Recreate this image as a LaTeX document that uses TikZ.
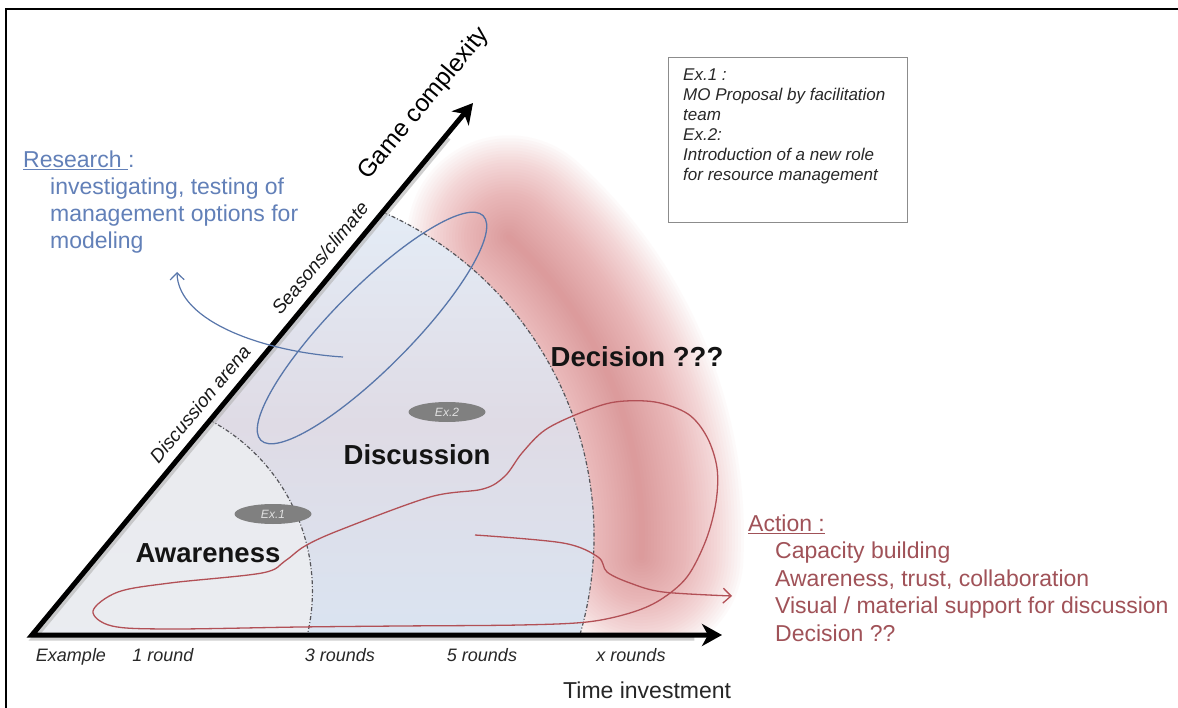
\documentclass[tikz,border=0pt]{standalone}
\usepackage{fontspec}
\setmainfont{Liberation Sans}
\usetikzlibrary{arrows.meta,shapes.geometric,calc}
\definecolor{resblue}{RGB}{98,128,184}
\definecolor{ellblue}{RGB}{88,118,170}
\definecolor{actred}{RGB}{160,82,88}
\definecolor{loopred}{RGB}{178,80,86}
\definecolor{pinkc}{RGB}{220,120,122}
\definecolor{awfill}{RGB}{237,238,241}
\definecolor{dtop}{RGB}{228,236,246}
\definecolor{dmid}{RGB}{223,219,229}
\definecolor{dbot}{RGB}{218,228,241}
\definecolor{bubgray}{RGB}{128,128,128}
\definecolor{arcgray}{RGB}{85,85,90}
\definecolor{boxgray}{RGB}{140,140,140}
\definecolor{txtgray}{RGB}{40,40,40}
\begin{document}
\begin{tikzpicture}[x=1pt,y=-1pt,
  axisline/.style={line width=5pt, line join=miter, arrows={Stealth[length=20pt,width=22pt,inset=6pt]-Stealth[length=20pt,width=22pt,inset=6pt]}},
  arcline/.style={arcgray, line width=1.2pt, dash pattern=on 4pt off 2pt on 1pt off 2pt},
  bubble/.style={ellipse, fill=bubgray, minimum width=77pt, minimum height=20pt, inner sep=0pt, text=black!12, font=\fontsize{12}{12}\selectfont\itshape},
  biglabel/.style={font=\fontsize{27.5}{30}\selectfont\bfseries, inner sep=0pt, text=black!92},
  difflabel/.style={rotate=50.3, font=\fontsize{19}{21}\selectfont\itshape, inner sep=0pt, text=black!90},
  axlabel/.style={font=\fontsize{18}{20}\selectfont\itshape, text=txtgray, inner sep=0pt, anchor=base},
  restext/.style={anchor=north west, align=left, inner sep=0pt, text=resblue, font=\fontsize{23}{27}\selectfont},
  acttext/.style={anchor=north west, align=left, inner sep=0pt, text=actred, font=\fontsize{23}{27.5}\selectfont},
  bluecurve/.style={ellblue, line width=1.2pt},
  redcurve/.style={loopred, line width=1.3pt}
]
\useasboundingbox (0,0) rectangle (1178,708);
\fill[white] (0,0) rectangle (1178,708);

\coordinate (O) at (32,635);
\coordinate (htip) at (722,635);
\coordinate (dtip) at (473,103);
\coordinate (c1) at (118.7,591.1);
\coordinate (c2) at (240,536);

% frame
\draw[line width=2.5pt, line join=miter] (6,708) -- (6,9) -- (1178,9);

% discussion sector
\shade[top color=dtop, bottom color=dbot, middle color=dmid] (O) -- ($(c2)+(16.2:354)$) arc[start angle=16.2,end angle=-66.1,radius=354] -- cycle;
% awareness sector
\fill[awfill, opacity=0.85] (O) -- ($(c1)+(13.1:193.7)$) arc[start angle=13.1,end angle=-61.8,radius=193.7] -- cycle;

% pink decision glow (outside the discussion circle)
\begin{scope}[even odd rule]
\clip (0,0) rectangle (1178,634) (c2) circle[radius=354];
\foreach \w in {6,12,...,204}
  \draw[pinkc, opacity=0.033, line width=\w pt, line cap=round] ($(c2)+(3:402)$) arc[start angle=3,end angle=-48,radius=402];
\end{scope}

% dashed boundaries
\draw[arcline] ($(c1)+(-61.8:193.7)$) arc[start angle=-61.8,end angle=13.1,radius=193.7];
\draw[arcline] ($(c2)+(-66.1:354)$) arc[start angle=-66.1,end angle=16.2,radius=354];

% axes
\draw[line width=5pt, black!30, opacity=0.6, line join=miter] ($(dtip)!0.06!(O)+(2,3)$) -- ($(O)+(2,3)$) -- ($(htip)!0.04!(O)+(0,3)$);
\draw[axisline] (dtip) -- (O) -- (htip);

% research ellipse and arrow
\draw[bluecurve, line width=1.3pt, rotate around={45.3:(372,328)}] (372,328) ellipse [x radius=158pt, y radius=40pt];
\coordinate (rs) at (343,357);
\coordinate (re) at (177,272);
\draw[bluecurve, -{Straight Barb[length=7pt,width=14pt]}] (rs) .. controls (265,352) and (178,322) .. (re);

% action loop
\draw[redcurve] plot[smooth cycle, tension=0.55] coordinates {(93,611) (118,592) (170,583) (262,573) (285,561) (305,546) (340,530) (430,497) (483,489) (505,476) (522,453) (545,430) (580,413) (615,402) (655,402) (688,414) (707,437) (717,468) (716,502) (706,540) (687,577) (660,600) (630,613) (587,622) (520,625) (400,626) (300,627) (170,629) (112,626)};
\coordinate (as) at (475,535);
\coordinate (ae) at (732,596);
\draw[redcurve, -{Straight Barb[length=8pt,width=15pt]}] plot[smooth, tension=0.55] coordinates {(as) (563,543) (598,557) (607,572) (630,583) (663,592) (ae)};

% example bubbles
\node[bubble] (ex1) at (273,514) {Ex.1};
\node[bubble] (ex2) at (447,412) {Ex.2};

% stage labels
\node[biglabel] (aw) at (208,553) {Awareness};
\node[biglabel] (disc) at (417,455) {Discussion};
\node[biglabel] (dec) at (637,357) {Decision ???};

% diagonal axis labels
\node[rotate=50.3, font=\fontsize{24.5}{26}\selectfont, inner sep=0pt] (gc) at (424,104) {Game complexity};
\node[difflabel] (sc) at (320,258) {Seasons/climate};
\node[difflabel] (da) at (200,404) {Discussion arena};

% horizontal axis labels
\node[axlabel] (lex) at (71,661) {Example};
\node[axlabel] (l1) at (163,661) {1 round};
\node[axlabel] (l3) at (340,661) {3 rounds};
\node[axlabel] (l5) at (482,661) {5 rounds};
\node[axlabel] (lx) at (631,661) {x rounds};
\node[font=\fontsize{23}{25}\selectfont, inner sep=0pt, anchor=base west, text=black!85] (ti) at (563,698) {Time investment};

% research text
\node[restext] (res) at (23,151) {\underline{Research\ }:\\
\hspace*{27pt}investigating, testing of\\
\hspace*{27pt}management options for\\
\hspace*{27pt}modeling};

% action text
\node[acttext] (act) at (748,514.5) {\underline{Action :}\\
\hspace*{27pt}Capacity building\\
\hspace*{27pt}Awareness, trust, collaboration\\
\hspace*{27pt}Visual / material support for discussion\\
\hspace*{27pt}Decision ??};

% example box
\node[draw=boxgray, line width=1.3pt, minimum width=239pt, minimum height=165pt, anchor=north west, inner sep=0pt] (exbox) at (668,57) {};
\node[anchor=north west, align=left, inner sep=0pt, font=\fontsize{17}{20}\selectfont\itshape, text=txtgray] (extext) at (683,68.8) {Ex.1 :\\MO Proposal by facilitation\\team\\Ex.2:\\Introduction of a new role\\for resource management};
\end{tikzpicture}
\end{document}
